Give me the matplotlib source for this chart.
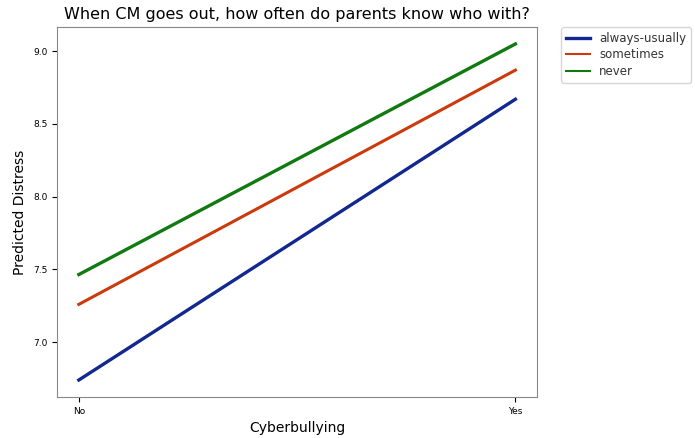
import matplotlib
matplotlib.use('Agg')
import matplotlib.pyplot as plt

categories = ['No', 'Yes']
always_usually = [6.74, 8.67]
sometimes = [7.26, 8.87]
never = [7.465, 9.05]

fig = plt.figure(figsize=(6.95, 4.38), dpi=100)
ax = fig.add_axes([0.082, 0.094, 0.691, 0.844])

ax.plot(categories, always_usually, color='#13288f', lw=2.4, label='always-usually')
ax.plot(categories, sometimes, color='#cc3a0c', lw=2.2, label='sometimes')
ax.plot(categories, never, color='#107a10', lw=2.4, label='never')

ax.set_title('When CM goes out, how often do parents know who with?', fontsize=11.5)
ax.set_xlabel('Cyberbullying', fontsize=10)
ax.set_ylabel('Predicted Distress', fontsize=10)
ax.tick_params(labelsize=6.5)
for s in ax.spines.values():
    s.set_color('#888888')

leg = ax.legend(bbox_to_anchor=(1.05, 1), loc='upper left', fontsize=8.5,
                borderaxespad=0, labelspacing=0.3)
# legend handles: first thicker, others thinner (as in the reference)
for line, w in zip(leg.get_lines(), [2.4, 1.5, 1.5]):
    line.set_linewidth(w)
for t in leg.get_texts():
    t.set_color('#333333')

fig.savefig('out.png', dpi=100)
